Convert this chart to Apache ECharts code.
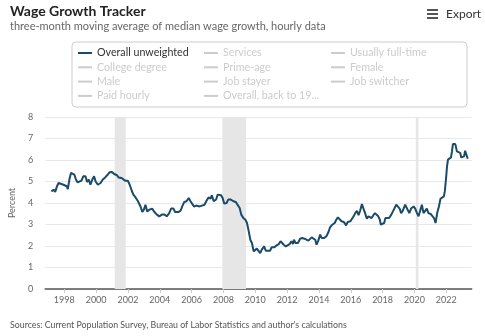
<!DOCTYPE html>
<html>
<head>
<meta charset="utf-8">
<script src="https://cdn.jsdelivr.net/npm/echarts@6/dist/echarts.min.js"></script>
<style>
html,body{margin:0;padding:0;background:#fff;}
#chart{width:485px;height:336px;}
</style>
</head>
<body>
<div id="chart"></div>
<script>
// Decimal years of the readings
const dates = [
1997.19,1997.33,1997.43,1997.54,1997.64,1997.74,1997.95,1998.05,1998.15,1998.22,1998.32,1998.42,1998.53,1998.63,1998.73,1998.84,1998.94,
1999.08,1999.19,1999.33,1999.43,1999.54,1999.64,1999.76,1999.87,1999.97,2000.11,2000.28,2000.42,2000.57,2000.69,2000.84,
2001.00,2001.14,2001.31,2001.41,2001.49,2001.60,2001.70,2001.82,2001.99,2002.11,2002.24,2002.34,2002.48,2002.63,2002.79,2002.90,
2003.00,2003.10,2003.21,2003.35,2003.52,2003.66,2003.82,2003.97,2004.13,2004.30,2004.44,2004.59,2004.71,2004.86,2004.96,
2005.06,2005.16,2005.31,2005.41,2005.54,2005.68,2005.82,2005.93,2006.05,2006.15,2006.30,2006.40,2006.51,2006.65,2006.81,2006.92,
2007.06,2007.19,2007.27,2007.39,2007.54,2007.64,2007.74,2007.85,2007.95,2008.05,2008.20,2008.30,2008.46,2008.63,2008.77,2008.88,
2009.02,2009.12,2009.25,2009.38,2009.48,2009.59,2009.69,2009.79,2009.90,2010.00,2010.10,2010.21,2010.31,2010.41,2010.56,2010.66,
2010.78,2010.93,2011.03,2011.20,2011.34,2011.48,2011.59,2011.71,2011.79,2011.92,2012.02,2012.16,2012.27,2012.37,2012.43,2012.53,
2012.68,2012.82,2012.95,2013.09,2013.19,2013.34,2013.44,2013.54,2013.65,2013.77,2013.85,2013.96,2014.08,2014.18,2014.33,2014.47,
2014.60,2014.70,2014.84,2014.99,2015.09,2015.19,2015.30,2015.42,2015.56,2015.71,2015.81,2015.98,2016.08,2016.18,2016.28,2016.39,
2016.49,2016.59,2016.70,2016.80,2016.90,2017.01,2017.11,2017.21,2017.31,2017.42,2017.52,2017.62,2017.73,2017.83,2017.89,2017.97,
2018.10,2018.18,2018.30,2018.41,2018.55,2018.65,2018.76,2018.86,2018.96,2019.07,2019.17,2019.27,2019.42,2019.54,2019.68,2019.79,
2019.95,2020.05,2020.16,2020.26,2020.36,2020.47,2020.57,2020.67,2020.78,2020.88,2021.02,2021.13,2021.23,2021.33,2021.43,2021.54,
2021.64,2021.74,2021.85,2021.91,2021.99,2022.05,2022.11,2022.22,2022.30,2022.36,2022.42,2022.57,2022.67,2022.77,2022.88,2022.94,
2023.04,2023.12,2023.19,2023.25,2023.35
];
// Overall unweighted, percent
const overallUnweighted = [
4.54,4.62,4.51,4.78,4.93,4.85,4.85,4.93,4.78,4.65,5.09,5.40,5.43,5.32,5.09,4.96,5.04,
5.04,5.24,5.24,4.98,5.09,4.85,5.09,5.24,5.00,4.85,4.93,5.09,5.19,5.29,5.43,
5.44,5.35,5.29,5.19,5.24,5.16,5.19,5.04,5.04,4.85,4.57,4.39,4.26,4.08,3.84,3.58,
3.69,3.92,3.61,3.69,3.74,3.58,3.46,3.38,3.46,3.46,3.38,3.53,3.74,3.74,3.58,
3.64,3.58,3.64,3.84,4.05,4.08,4.23,4.08,3.95,3.84,3.88,3.95,3.84,3.88,3.92,4.08,
4.26,4.20,4.36,4.08,4.16,4.39,4.47,4.36,4.23,3.97,4.00,4.16,4.16,4.08,4.05,4.00,
3.77,3.46,3.30,3.22,3.07,2.68,2.29,2.14,1.75,1.67,1.88,1.94,1.67,1.83,1.98,1.78,
1.75,1.78,1.94,1.94,2.03,2.09,2.22,2.19,2.06,1.98,1.94,2.09,2.22,2.09,2.29,2.14,
2.14,2.34,2.37,2.34,2.25,2.25,2.19,2.40,2.45,2.29,2.06,2.25,2.53,2.37,2.37,2.45,
2.65,2.87,2.99,3.07,3.22,3.33,3.30,3.15,3.12,2.96,3.12,3.15,3.22,3.38,3.53,3.64,
3.43,3.64,3.95,3.92,3.53,3.27,3.38,3.46,3.30,3.43,3.53,3.61,3.38,3.22,2.99,2.96,
3.07,3.30,3.22,3.30,3.46,3.61,3.58,3.92,3.92,3.74,3.53,3.64,3.92,3.84,3.53,3.74,
3.84,3.74,3.53,3.38,3.64,3.92,3.53,3.53,3.74,3.53,3.49,3.49,3.30,3.07,3.53,3.84,
4.20,4.16,4.31,4.54,5.16,5.71,6.02,6.09,6.12,6.40,6.74,6.74,6.40,6.48,6.33,6.12,
6.12,6.17,6.43,6.28,6.06
];
// Recession periods (decimal years)
const recessions = [[2001.17, 2001.86], [2007.93, 2009.42], [2020.09, 2020.25]];
const xTickYears = [1998,2000,2002,2004,2006,2008,2010,2012,2014,2016,2018,2020,2022];
const legendCol1 = ['Overall unweighted', 'College degree', 'Male', 'Paid hourly'];
const legendCol2 = ['Services', 'Prime-age', 'Job stayer', 'Overall, back to 19...'];
const legendCol3 = ['Usually full-time', 'Female', 'Job switcher'];

const FONT = 'Lato';
const LINE = '#1b4b68';
const chart = echarts.init(document.getElementById('chart'), null, {renderer: 'canvas'});

const selected = {};
[...legendCol1, ...legendCol2, ...legendCol3].forEach(n => selected[n] = n === 'Overall unweighted');

function legendCfg(names, left) {
  return {
    data: names, orient: 'vertical', left: left, top: 46,
    icon: 'rect', itemWidth: 14, itemHeight: 2, itemGap: 0.3,
    selected: selected, inactiveColor: '#cccccc',
    textStyle: {fontFamily: FONT, fontSize: 10.7, color: '#333', lineHeight: 14, padding: [0,0,0,0]},
    padding: 0
  };
}

const extraSeries = [...legendCol1.slice(1), ...legendCol2, ...legendCol3].map(n => ({
  name: n, type: 'line', data: [], showSymbol: false, lineStyle: {width: 2}, itemStyle: {color: '#999'}
}));

chart.setOption({
  animation: false,
  textStyle: {fontFamily: FONT},
  title: [
    {text: 'Wage Growth Tracker', left: 10, top: 4, padding: 0, textStyle: {fontFamily: FONT, fontSize: 14, fontWeight: 'bold', color: '#222'}},
    {text: 'three-month moving average of median wage growth, hourly data', left: 10, top: 21, padding: 0, textStyle: {fontFamily: FONT, fontSize: 11, fontWeight: 'normal', color: '#666'}},
    {text: "Sources: Current Population Survey, Bureau of Labor Statistics and author's calculations", left: 10, top: 321, padding: 0, textStyle: {fontFamily: FONT, fontSize: 8.8, fontWeight: 'normal', color: '#555'}}
  ],
  graphic: [
    {type: 'rect', shape: {x: 72, y: 42, width: 395, height: 65, r: 4}, style: {fill: 'none', stroke: '#cccccc', lineWidth: 1}},
    {type: 'rect', shape: {x: 427, y: 9, width: 11, height: 2}, style: {fill: '#555'}},
    {type: 'rect', shape: {x: 427, y: 13, width: 11, height: 2}, style: {fill: '#555'}},
    {type: 'rect', shape: {x: 427, y: 17, width: 11, height: 2}, style: {fill: '#555'}},
    {type: 'text', x: 446, y: 14, style: {text: 'Export', fontFamily: FONT, fontSize: 12, fill: '#333', verticalAlign: 'middle'}}
  ],
  legend: [legendCfg(legendCol1, 78), legendCfg(legendCol2, 204), legendCfg(legendCol3, 331)],
  grid: {left: 38, right: 13.3, top: 117, bottom: 47},
  xAxis: {
    type: 'value', min: 1996.795, max: 2023.6,
    axisLine: {show: true, lineStyle: {color: '#555', width: 1.5}},
    axisTick: {show: true, customValues: xTickYears, length: 4, lineStyle: {color: '#ccc'}},
    axisLabel: {customValues: xTickYears, formatter: v => String(Math.round(v)), fontSize: 9, color: '#666', margin: 7, fontFamily: FONT},
    splitLine: {show: false}
  },
  yAxis: {
    type: 'value', min: 0, max: 8, interval: 1,
    name: 'Percent', nameLocation: 'middle', nameGap: 26,
    nameTextStyle: {fontSize: 9, color: '#666', fontFamily: FONT},
    axisLine: {show: false}, axisTick: {show: false},
    axisLabel: {fontSize: 9, color: '#666', margin: 12, fontFamily: FONT},
    splitLine: {lineStyle: {color: '#e8e8e8', width: 1}}
  },
  series: [
    {
      name: 'Overall unweighted', type: 'line',
      data: dates.map((d, i) => [d, overallUnweighted[i]]),
      showSymbol: false, lineStyle: {width: 2, color: LINE}, itemStyle: {color: LINE},
      z: 3,
      markArea: {
        silent: true,
        itemStyle: {color: '#e6e6e6'},
        data: recessions.map(r => [{xAxis: r[0]}, {xAxis: r[1]}])
      }
    },
    ...extraSeries
  ]
});
</script>
</body>
</html>
